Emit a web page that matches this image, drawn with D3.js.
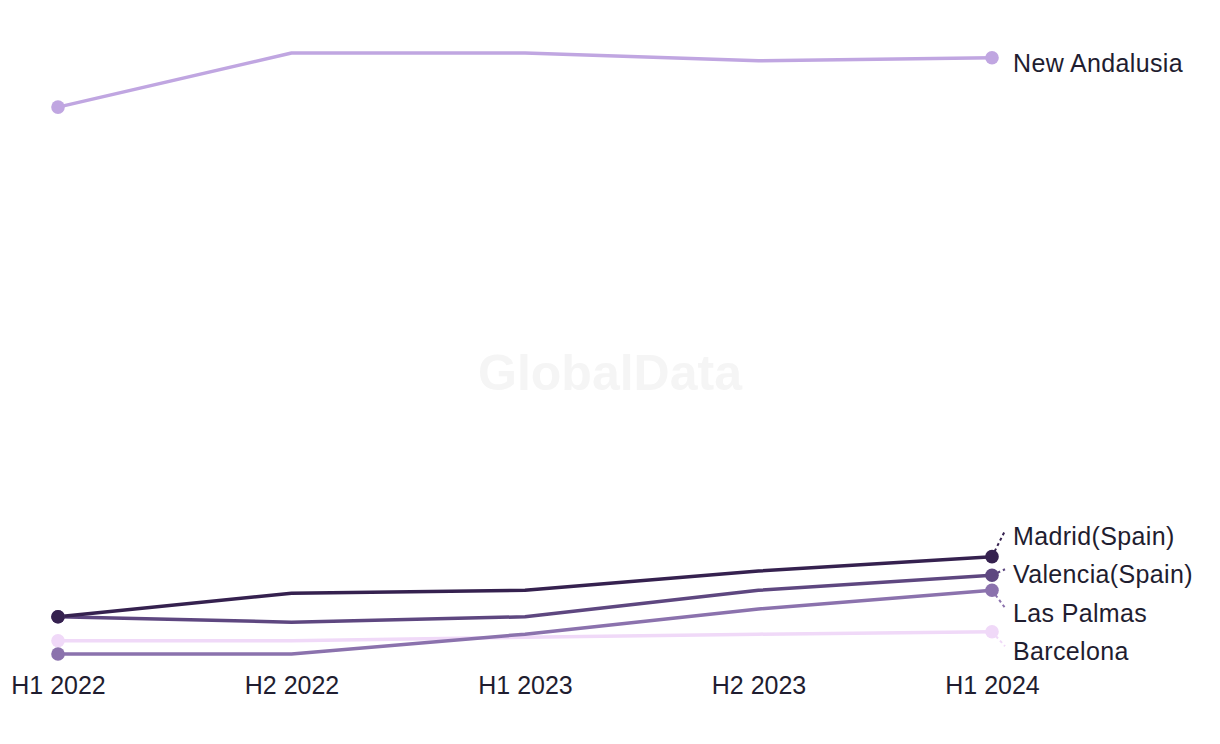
<!DOCTYPE html>
<html>
<head>
<meta charset="utf-8">
<script src="https://cdn.jsdelivr.net/npm/d3@7"></script>
<style>
  html, body { margin: 0; padding: 0; background: #ffffff; }
  svg { display: block; }
  text { font-family: "Liberation Sans", Arial, sans-serif; }
</style>
</head>
<body>
<svg id="chart" width="1220" height="744"></svg>
<script>
// ---- Data ----
const periods = ["H1 2022", "H2 2022", "H1 2023", "H2 2023", "H1 2024"];
const seriesNames = ["New Andalusia", "Madrid(Spain)", "Valencia(Spain)", "Las Palmas", "Barcelona"];
const newAndalusia = [91.0, 100.0, 100.0, 98.7, 99.2];
const madrid = [6.2, 10.1, 10.6, 13.8, 16.2];
const valencia = [6.2, 5.3, 6.2, 10.6, 13.1];
const lasPalmas = [0.0, 0.0, 3.3, 7.5, 10.6];
const barcelona = [2.2, 2.2, 2.8, 3.3, 3.7];
const seriesColors = ["#c0a6e1", "#35214f", "#5e4780", "#8b72ad", "#f0d9f8"];

const seriesValues = [newAndalusia, madrid, valencia, lasPalmas, barcelona];
const series = seriesNames.map((name, i) => ({ name, values: seriesValues[i], color: seriesColors[i] }));

// ---- Layout ----
const svg = d3.select("#chart");
const plotLeft = 58, plotRight = 992, plotTop = 53, plotBottom = 654;

const x = d3.scalePoint().domain(periods).range([plotLeft, plotRight]);
const allVals = seriesValues.flat();
const y = d3.scaleLinear().domain(d3.extent(allVals)).range([plotBottom, plotTop]);

// watermark
svg.append("text")
  .attr("x", 610).attr("y", 390)
  .attr("text-anchor", "middle")
  .attr("font-size", 50).attr("font-weight", "bold")
  .attr("fill", "#f5f5f5")
  .text("GlobalData");

// x axis (labels only)
const xAxis = d3.axisBottom(x).tickSize(0).tickPadding(0);
const gx = svg.append("g").attr("transform", `translate(0,${694})`).call(xAxis);
gx.select(".domain").remove();
gx.selectAll("text")
  .attr("dy", null).attr("y", 0)
  .attr("font-size", 25)
  .attr("font-family", "Liberation Sans, Arial, sans-serif")
  .attr("fill", "#1f1d30");

// lines
const line = d3.line().x((d, i) => x(periods[i])).y(d => y(d));
const drawOrder = [4, 3, 2, 1, 0];
drawOrder.forEach(si => {
  const s = series[si];
  svg.append("path")
    .attr("d", line(s.values))
    .attr("fill", "none")
    .attr("stroke", s.color)
    .attr("stroke-width", 3.5)
    .attr("stroke-linejoin", "round");
});
// start and end dots
drawOrder.forEach(si => {
  const s = series[si];
  [0, periods.length - 1].forEach(i => {
    svg.append("circle")
      .attr("cx", x(periods[i])).attr("cy", y(s.values[i]))
      .attr("r", 6.8).attr("fill", s.color);
  });
});

// label placement with collision avoidance
const gap = 38.5;
let labels = series.map(s => ({ s, dotY: y(s.values[s.values.length - 1]) }));
labels.sort((a, b) => a.dotY - b.dotY);
let groups = labels.map(l => ({ items: [l], mean: l.dotY }));
let merged = true;
while (merged) {
  merged = false;
  for (let i = 0; i < groups.length - 1; i++) {
    const g1 = groups[i], g2 = groups[i + 1];
    const t1 = g1.mean - (g1.items.length - 1) * gap / 2;
    const b1 = t1 + (g1.items.length - 1) * gap;
    const t2 = g2.mean - (g2.items.length - 1) * gap / 2;
    if (t2 - b1 < gap) {
      const items = g1.items.concat(g2.items);
      groups.splice(i, 2, { items, mean: d3.mean(items, d => d.dotY) });
      merged = true;
      break;
    }
  }
}
groups.forEach(g => {
  const t = g.mean - (g.items.length - 1) * gap / 2;
  g.items.forEach((l, k) => l.y = t + k * gap);
});

const lx = 1013;
labels.forEach(l => {
  if (Math.abs(l.y - l.dotY) > 2) {
    svg.append("line")
      .attr("x1", plotRight).attr("y1", l.dotY)
      .attr("x2", 1005).attr("y2", l.y)
      .attr("stroke", l.s.color)
      .attr("stroke-width", 2)
      .attr("stroke-dasharray", "3,3");
  }
  svg.append("text")
    .attr("x", lx).attr("y", l.y + 14)
    .attr("font-size", 25)
    .attr("letter-spacing", 0.35)
    .attr("fill", "#1f1d30")
    .text(l.s.name);
});
</script>
</body>
</html>
